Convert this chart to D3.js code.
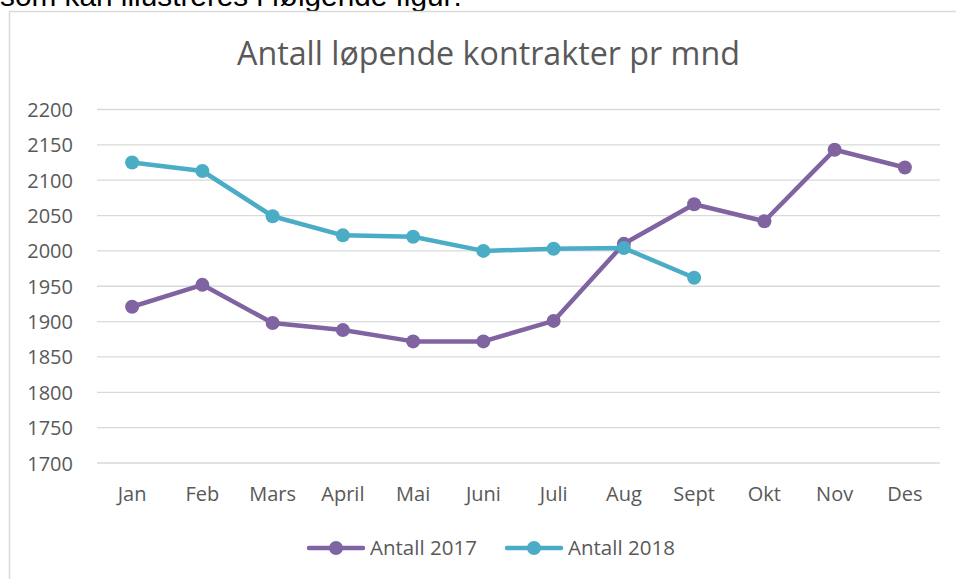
<!DOCTYPE html>
<html><head><meta charset="utf-8">
<script src="https://cdn.jsdelivr.net/npm/d3@7"></script>
<style>body{margin:0;background:#fff;overflow:hidden}svg{display:block}</style>
</head><body>
<svg id="c" width="956" height="579"></svg>
<script>
const categories = ["Jan","Feb","Mars","April","Mai","Juni","Juli","Aug","Sept","Okt","Nov","Des"];
const values2017 = [1921,1952,1898,1888,1872,1872,1901,2010,2066,2042,2143,2118];
const values2018 = [2125,2113,2049,2022,2020,2000,2003,2004,1962];
const yTicks = [1700,1750,1800,1850,1900,1950,2000,2050,2100,2150,2200];
const seriesNames = ["Antall 2017","Antall 2018"];
const colors = ["#8064A2","#4BACC6"];

const svg = d3.select("#c");
const font = "'Open Sans', sans-serif";

function fitSize(text, family, target){
  const t = svg.append("text").attr("font-family",family).attr("font-size",100).text(text);
  const w = t.node().getComputedTextLength();
  t.remove();
  return 100*target/w;
}
const labelSize = (fitSize("2200",font,46)+fitSize("April",font,43))/2;
const titleSize = fitSize("Antall løpende kontrakter pr mnd",font,503);
const legendSize = fitSize("Antall 2017",font,107);
const topSize = fitSize("som kan illustreres i følgende figur:","Arial, 'Liberation Sans', sans-serif",462);

svg.append("text").attr("x",0).attr("y",6).attr("font-family","Arial, 'Liberation Sans', sans-serif")
  .attr("font-size",topSize).attr("fill","#000").text("som kan illustreres i følgende figur:");
svg.append("rect").attr("x",9.5).attr("y",11.5).attr("width",960).attr("height",600)
  .attr("fill","none").attr("stroke","#d9d9d9").attr("stroke-width",1.5);

svg.append("text").attr("x",488.5).attr("y",65).attr("text-anchor","middle").attr("font-family",font)
  .attr("font-size",titleSize).attr("fill","#595959").text("Antall løpende kontrakter pr mnd");

const x = d3.scaleBand().domain(categories).range([97,940]);
const y = d3.scaleLinear().domain([1700,2200]).range([463,109.5]);

svg.append("g").selectAll("line").data(yTicks).join("line")
  .attr("x1",97).attr("x2",940).attr("y1",d=>y(d)).attr("y2",d=>y(d))
  .attr("stroke","#d9d9d9").attr("stroke-width",1.3);

const yAxis = svg.append("g").attr("transform","translate(73,0)")
  .call(d3.axisLeft(y).tickValues(yTicks).tickFormat(d3.format("d")).tickSize(0).tickPadding(0));
yAxis.select(".domain").remove();
yAxis.selectAll("text").attr("font-family",font).attr("font-size",labelSize).attr("fill","#595959").attr("dy","0.35em");

const xAxis = svg.append("g").attr("transform","translate(0,494)")
  .call(d3.axisBottom(x).tickSize(0).tickPadding(0));
xAxis.select(".domain").remove();
xAxis.selectAll("text").attr("font-family",font).attr("font-size",labelSize).attr("fill","#595959").attr("dy","0.35em").attr("y",0);

const line = d3.line().x((d,i)=>x(categories[i])+x.bandwidth()/2).y(d=>y(d));
[values2017, values2018].forEach((vals,k)=>{
  svg.append("path").datum(vals).attr("d",line).attr("fill","none")
    .attr("stroke",colors[k]).attr("stroke-width",4.5).attr("stroke-linejoin","round").attr("stroke-linecap","round");
  svg.append("g").selectAll("circle").data(vals).join("circle")
    .attr("cx",(d,i)=>x(categories[i])+x.bandwidth()/2).attr("cy",d=>y(d)).attr("r",7).attr("fill",colors[k]);
});

const legend = [{x0:309,tx:370},{x0:507,tx:568}];
legend.forEach((L,k)=>{
  svg.append("line").attr("x1",L.x0).attr("x2",L.x0+54).attr("y1",548).attr("y2",548)
    .attr("stroke",colors[k]).attr("stroke-width",4.5).attr("stroke-linecap","round");
  svg.append("circle").attr("cx",L.x0+27).attr("cy",548).attr("r",7).attr("fill",colors[k]);
  svg.append("text").attr("x",L.tx).attr("y",548).attr("dy","0.35em").attr("font-family",font)
    .attr("font-size",legendSize).attr("fill","#595959").text(seriesNames[k]);
});
</script>
</body></html>
